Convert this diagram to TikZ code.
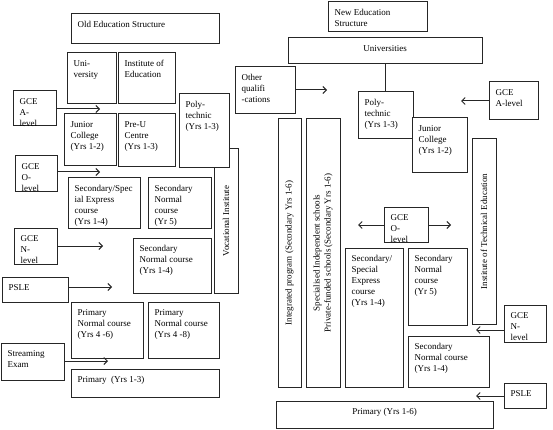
\documentclass[tikz,border=0pt]{standalone}
\usepackage{fontspec}
\setmainfont{Liberation Serif}
\usetikzlibrary{fit,arrows.meta}
\tikzset{
  bx/.style={draw=black!85, line width=1pt, inner sep=0pt, fill=white},
  tx/.style={anchor=north west, inner sep=0pt, align=left, font=\fontsize{9}{11}\selectfont},
  ctx/.style={inner sep=0pt, align=center, font=\fontsize{9}{11}\selectfont},
  arr/.style={draw=black!85, line width=1pt, -{Straight Barb[length=3.5pt,width=7pt]}},
  ln/.style={draw=black!85, line width=1pt},
}
\newcommand\bxx[6]{%
  \node[bx, fit={(#2,#3) (#4,#5)}] (#1) {};
  \node[tx] (#1-t) at ([xshift=7pt,yshift=-7pt]#1.north west) {\rule{0pt}{7pt}#6};
}
\newcommand\bxe[5]{%
  \node[bx, fit={(#2,#3) (#4,#5)}] (#1) {};
}
\begin{document}
\begin{tikzpicture}[x=1pt,y=-1pt]
\useasboundingbox (0,0) rectangle (553,430);
% ---------- left: old structure ----------
\bxx{oldT}{71}{14}{219}{44}{Old Education Structure}
\bxx{univL}{67}{53}{116}{104}{Uni-\\versity}
\bxx{ioe}{118}{53}{175}{104}{Institute of\\Education}
\bxx{gceAL}{13}{91}{56}{126}{GCE\\A-\\level}
\bxx{jcL}{64}{114}{116}{166}{Junior\\College\\(Yrs 1-2)}
\bxx{preu}{118}{114}{175}{167}{Pre-U\\Centre\\(Yrs 1-3)}
\bxe{voc}{214}{149}{238}{293}
\node[ctx, rotate=90] (voc-t) at (voc.center) {Vocational Institute};
\bxx{polyL}{179}{94}{229}{168}{Poly-\\technic\\(Yrs 1-3)}
\bxx{gceOL}{15}{156}{57}{192}{GCE\\O-\\level}
\bxx{secExpL}{68}{178}{140}{228}{Secondary/Spec\\ial Express\\course\\(Yrs 1-4)}
\bxx{secNormFiveL}{148}{178}{211}{228}{Secondary\\Normal\\course\\(Yr 5)}
\bxx{gceNL}{14}{228}{57}{264}{GCE\\N-\\level}
\bxx{secNormL}{133}{238}{211}{293}{Secondary\\Normal course\\(Yrs 1-4)}
\bxx{psleL}{2}{277}{68}{302}{PSLE}
\bxx{pnSix}{71}{302}{143}{358}{Primary\\Normal course\\(Yrs 4 -6)}
\bxx{pnEight}{148}{302}{219}{358}{Primary\\Normal course\\(Yrs 4 -8)}
\bxx{stream}{1}{343}{64}{380}{Streaming\\Exam}
\bxx{primL}{71}{369}{219}{397}{Primary\ \ (Yrs 1-3)}
% left arrows
\coordinate (eA) at (100,109);
\coordinate (eO) at (100,172);
\coordinate (eN) at (103,246);
\coordinate (eP) at (112,287);
\coordinate (eS) at (108,361);
\draw[arr] (gceAL.east |- eA) -- (eA);
\draw[arr] (gceOL.east |- eO) -- (eO);
\draw[arr] (gceNL.east |- eN) -- (eN);
\draw[arr] (psleL.east |- eP) -- (eP);
\draw[arr] (stream.east |- eS) -- (eS);
% ---------- right: new structure ----------
\bxx{newT}{328}{2}{427}{32}{New Education\\Structure}
\bxe{univR}{288}{38}{482}{64}
\node[ctx] (univR-t) at ([yshift=2pt]univR.center) {Universities};
\bxx{other}{235}{67}{295}{114}{Other\\qualifi\\-cations}
\bxx{polyR}{358}{92}{413}{139}{Poly-\\technic\\(Yrs 1-3)}
\bxx{jcR}{412}{118}{467}{173}{Junior\\College\\(Yrs 1-2)}
\bxx{gceAR}{489}{82}{538}{120}{GCE\\A-level}
\bxe{ite}{472}{139}{496}{324}
\node[ctx, rotate=90] (ite-t) at (ite.center) {Institute of Technical Education};
\bxe{integ}{278}{119}{301}{387}
\node[ctx, rotate=90] (integ-t) at (integ.center) {Integrated program (Secondary Yrs 1-6)};
\bxe{spec}{306}{119}{340}{387}
\node[ctx, rotate=90] (spec-t) at (spec.center) {Specialised Independent schools\\Private-funded schools (Secondary Yrs 1-6)};
\bxx{gceOR}{384}{207}{428}{242}{GCE\\O-\\level}
\bxx{secExpR}{345}{248}{403}{387}{Secondary/\\Special\\Express\\course\\(Yrs 1-4)}
\bxx{secNormFiveR}{408}{248}{467}{325}{Secondary\\Normal\\course\\(Yr 5)}
\bxx{gceNR}{504}{305}{546}{342}{GCE\\N-\\level}
\bxx{secNormR}{408}{336}{489}{387}{Secondary\\Normal course\\(Yrs 1-4)}
\bxx{psleR}{504}{383}{546}{408}{PSLE}
\bxe{primR}{276}{401}{493}{428}
\node[ctx] (primR-t) at ([yshift=2pt]primR.center) {Primary (Yrs 1-6)};
% right connectors
\draw[ln] (univR.south) -- (univR.south |- polyR.north);
\coordinate (rOq) at (327,90);
\coordinate (rA) at (461,101);
\coordinate (rOl) at (358,225);
\coordinate (rOr) at (451,225);
\coordinate (rN) at (476,330);
\coordinate (rP) at (476,396);
\draw[arr] (other.east |- rOq) -- (rOq);
\draw[arr] (gceAR.west |- rA) -- (rA);
\draw[arr] (gceOR.west |- rOl) -- (rOl);
\draw[arr] (gceOR.east |- rOr) -- (rOr);
\draw[arr] (gceNR.west |- rN) -- (rN);
\draw[arr] (psleR.west |- rP) -- (rP);
\end{tikzpicture}
\end{document}
